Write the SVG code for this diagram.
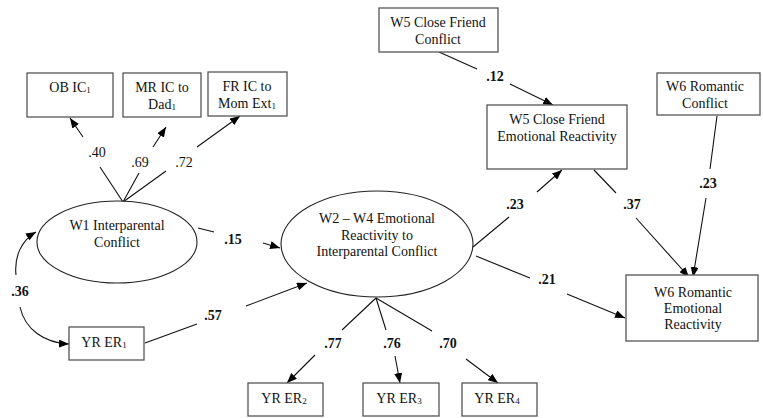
<svg xmlns="http://www.w3.org/2000/svg" width="763" height="418" viewBox="0 0 763 418">
<defs>
<marker id="arr" markerUnits="userSpaceOnUse" markerWidth="10" markerHeight="8" refX="10" refY="4" orient="auto-start-reverse">
<path d="M0,0 L10,4 L0,8 z" fill="#000"/>
</marker>
<style>
.box{fill:#fff;stroke:#555;stroke-width:1.3}
.ell{fill:#fff;stroke:#222;stroke-width:1.1}
.t{font-family:"Liberation Serif","Times New Roman",serif;font-size:14px;fill:#111;text-anchor:middle}
.sub{font-size:9px}
.c{fill:none;stroke:#111;stroke-width:1.1;marker-end:url(#arr)}
.lb{font-family:"Liberation Serif","Times New Roman",serif;font-size:14px;fill:#111;text-anchor:middle;font-weight:bold}
.ln{font-weight:normal}
</style>
</defs>
<rect width="763" height="418" fill="#fff"/>

<g id="connectors">
<path class="c" d="M123,202 L100,167 M83,137 L70,118"/>
<path class="c" d="M123,202 L139,173 M153,147 L166,127"/>
<path class="c" d="M123,202 L166,171 M197,147 L240,116"/>
<path class="c" d="M198,228 L214,232 M263,243 L280,248"/>
<path class="c" d="M145,343 L197,324 M246,306 L307,283"/>
<path class="c" style="marker-start:url(#arr)" d="M36,232 C22,240 14,256 16,275 M20,307 C25,330 45,343 69,344"/>
<path class="c" d="M376,298 L342,330 M315,355 L287,383"/>
<path class="c" d="M376,298 L386,330 M395,356 L400,383"/>
<path class="c" d="M376,298 L432,331 M466,359 L498,383"/>
<path class="c" d="M439,52 L477,69 M510,84 L553,105"/>
<path class="c" d="M473,247 L509,217 M537,192 L562,170"/>
<path class="c" d="M594,170 L616,193 M636,218 L689,277"/>
<path class="c" d="M717,116 L710,169 M706,198 L693,277"/>
<path class="c" d="M476,256 L530,278 M567,294 L625,318"/>
</g>

<g id="labels">
<text class="lb ln" x="97" y="157">.40</text>
<text class="lb ln" x="140" y="167">.69</text>
<text class="lb ln" x="184" y="167">.72</text>
<text class="lb" x="233" y="244">.15</text>
<text class="lb" x="20" y="296">.36</text>
<text class="lb" x="213" y="320">.57</text>
<text class="lb" x="333" y="348">.77</text>
<text class="lb" x="392" y="348">.76</text>
<text class="lb" x="448" y="348">.70</text>
<text class="lb" x="495" y="81">.12</text>
<text class="lb" x="515" y="209">.23</text>
<text class="lb" x="632" y="209">.37</text>
<text class="lb" x="708" y="188">.23</text>
<text class="lb" x="547" y="284">.21</text>
</g>

<g id="ob_ic1">
<rect class="box" x="27" y="73" width="86" height="44"/>
<text class="t" x="70" y="92">OB IC<tspan class="sub" dy="1">1</tspan></text>
</g>
<g id="mr_ic">
<rect class="box" x="123" y="73" width="78" height="44"/>
<text class="t" x="162" y="92">MR IC to</text>
<text class="t" x="162" y="109">Dad<tspan class="sub" dy="1">1</tspan></text>
</g>
<g id="fr_ic">
<rect class="box" x="208" y="72" width="79" height="44"/>
<text class="t" x="247" y="91">FR IC to</text>
<text class="t" x="247" y="108">Mom Ext<tspan class="sub" dy="1">1</tspan></text>
</g>

<g id="w1">
<ellipse class="ell" cx="117" cy="242" rx="80" ry="41"/>
<text class="t" x="117" y="230">W1 Interparental</text>
<text class="t" x="117" y="247">Conflict</text>
</g>

<g id="yr_er1">
<rect class="box" x="69" y="327" width="75" height="33"/>
<text class="t" x="104" y="347">YR ER<tspan class="sub" dy="1">1</tspan></text>
</g>

<g id="w2w4">
<ellipse class="ell" cx="377" cy="244" rx="96" ry="53"/>
<text class="t" x="377" y="223">W2 – W4 Emotional</text>
<text class="t" x="377" y="240">Reactivity to</text>
<text class="t" x="377" y="256">Interparental Conflict</text>
</g>

<g id="yr_er2">
<rect class="box" x="248" y="383" width="75" height="33"/>
<text class="t" x="284" y="403">YR ER<tspan class="sub" dy="1">2</tspan></text>
</g>
<g id="yr_er3">
<rect class="box" x="363" y="383" width="76" height="33"/>
<text class="t" x="399" y="403">YR ER<tspan class="sub" dy="1">3</tspan></text>
</g>
<g id="yr_er4">
<rect class="box" x="462" y="383" width="75" height="33"/>
<text class="t" x="497" y="403">YR ER<tspan class="sub" dy="1">4</tspan></text>
</g>

<g id="w5_conflict">
<rect class="box" x="379" y="8" width="119" height="44"/>
<text class="t" x="438" y="27">W5 Close Friend</text>
<text class="t" x="438" y="44">Conflict</text>
</g>

<g id="w5_er">
<rect class="box" x="487" y="105" width="140" height="64"/>
<text class="t" x="557" y="124">W5 Close Friend</text>
<text class="t" x="557" y="141">Emotional Reactivity</text>
</g>

<g id="w6_conflict">
<rect class="box" x="657" y="73" width="103" height="42"/>
<text class="t" x="705" y="91">W6 Romantic</text>
<text class="t" x="705" y="108">Conflict</text>
</g>

<g id="w6_er">
<rect class="box" x="626" y="275" width="132" height="66"/>
<text class="t" x="693" y="297">W6 Romantic</text>
<text class="t" x="693" y="313">Emotional</text>
<text class="t" x="693" y="329">Reactivity</text>
</g>
</svg>
